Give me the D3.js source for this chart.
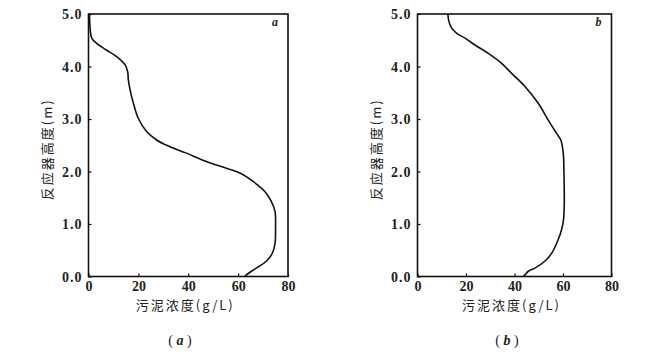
<!DOCTYPE html>
<html><head><meta charset="utf-8">
<script src="https://cdn.jsdelivr.net/npm/d3@7"></script>
<style>
body{margin:0;background:#fff;}
svg{display:block;}
.tick text{font-family:"Liberation Serif","DejaVu Serif",serif;}
</style></head>
<body><svg id="c" width="650" height="355"></svg>
<script>
// Data (height in m, concentration in g/L)
const heightA = [5.0,4.7,4.54,4.44,4.31,4.19,4.03,3.9,3.74,3.55,3.3,3.01,2.76,2.6,2.5,2.35,2.19,2.06,1.97,1.81,1.62,1.43,1.24,0.95,0.63,0.44,0.29,0.16,0.03,0.0];
const concA   = [0.4,0.7,1.3,3.3,7.3,11.3,14.7,15.7,16.0,16.7,18.0,20.0,23.3,27.3,31.3,39.3,47.3,55.3,60.7,66.0,70.7,73.3,74.8,75.0,74.8,73.7,71.3,67.3,63.3,62.7];
const heightB = [5.0,4.85,4.73,4.63,4.54,4.41,4.25,4.06,3.87,3.62,3.3,2.98,2.73,2.6,2.35,1.97,1.33,1.08,0.89,0.7,0.44,0.29,0.16,0.1,0.03,0.0];
const concB   = [12.5,13.0,14.1,16.2,19.6,23.7,29.2,34.7,38.8,44.3,49.8,53.9,57.3,59.1,60.1,60.4,60.5,60.2,59.4,58.0,55.3,52.5,48.4,45.7,44.3,43.6];
const xTicks = [0,20,40,60,80];
const yTicks = [0,1,2,3,4,5];
const xTitle = "污泥浓度(g/L)";
const yTitle = "反应器高度(m)";

const svg = d3.select("#c");

function panel(cfg){
  const {left,right,top,bottom,conc,height,tag,caption} = cfg;
  const x = d3.scaleLinear().domain([0,80]).range([left,right]);
  const y = d3.scaleLinear().domain([0,5]).range([bottom,top]);
  const g = svg.append("g");

  // frame
  g.append("rect").attr("x",left).attr("y",top).attr("width",right-left).attr("height",bottom-top)
    .attr("fill","none").attr("stroke","#111").attr("stroke-width",1.6);

  // x axis
  const xa = g.append("g").attr("transform",`translate(0,${bottom})`)
    .call(d3.axisBottom(x).tickValues(xTicks).tickSize(-3).tickPadding(4).tickFormat(d3.format("d")));
  xa.select(".domain").remove();
  xa.selectAll("line").attr("stroke","#111").attr("stroke-width",1.2);
  xa.selectAll("text").attr("font-size",14).attr("font-weight","bold").attr("fill","#222").attr("dy","0.72em");

  // y axis
  const ya = g.append("g").attr("transform",`translate(${left},0)`)
    .call(d3.axisLeft(y).tickValues(yTicks).tickSize(-3).tickPadding(6).tickFormat(d3.format(".1f")));
  ya.select(".domain").remove();
  ya.selectAll("line").attr("stroke","#111").attr("stroke-width",1.2);
  ya.selectAll("text").attr("font-size",14).attr("font-weight","bold").attr("fill","#222")
    .attr("letter-spacing","1px").attr("dy","0.35em");

  // curve
  const data = conc.map((c,i)=>({c,h:height[i]}));
  g.append("path").datum(data)
    .attr("d", d3.line().x(d=>x(d.c)).y(d=>y(d.h)).curve(d3.curveCatmullRom.alpha(0.5)))
    .attr("fill","none").attr("stroke","#111").attr("stroke-width",1.6);

  // tag letter
  g.append("text").attr("x",right-13).attr("y",top+12).attr("text-anchor","middle")
    .attr("font-family","Liberation Serif, serif").attr("font-style","italic").attr("font-weight","bold")
    .attr("font-size",12).attr("fill","#222").text(tag);

  // x title
  g.append("text").attr("x",(left+right)/2 - 3).attr("y",bottom+33).attr("text-anchor","middle")
    .attr("font-family","Noto Sans CJK SC, sans-serif").attr("font-size",13).attr("letter-spacing","2px")
    .attr("fill","#222").text(xTitle);

  // y title
  g.append("text").attr("transform",`translate(${left-37},${(top+bottom)/2+4}) rotate(-90)`)
    .attr("text-anchor","middle").attr("font-family","Noto Sans CJK SC, sans-serif").attr("font-size",13)
    .attr("letter-spacing","2px").attr("fill","#222").text(yTitle);

  // caption
  g.append("text").attr("x",cfg.capX).attr("y",345).attr("text-anchor","middle")
    .attr("font-family","Liberation Serif, serif").attr("font-size",14).attr("fill","#222")
    .attr("xml:space","preserve").html(`( <tspan font-style="italic" font-weight="bold">${caption}</tspan> )`);
}

panel({left:88.5,right:288,top:14,bottom:276.5,conc:concA,height:heightA,tag:"a",caption:"a",capX:180});
panel({left:417.5,right:611.5,top:14,bottom:276.5,conc:concB,height:heightB,tag:"b",caption:"b",capX:507});
</script></body></html>
